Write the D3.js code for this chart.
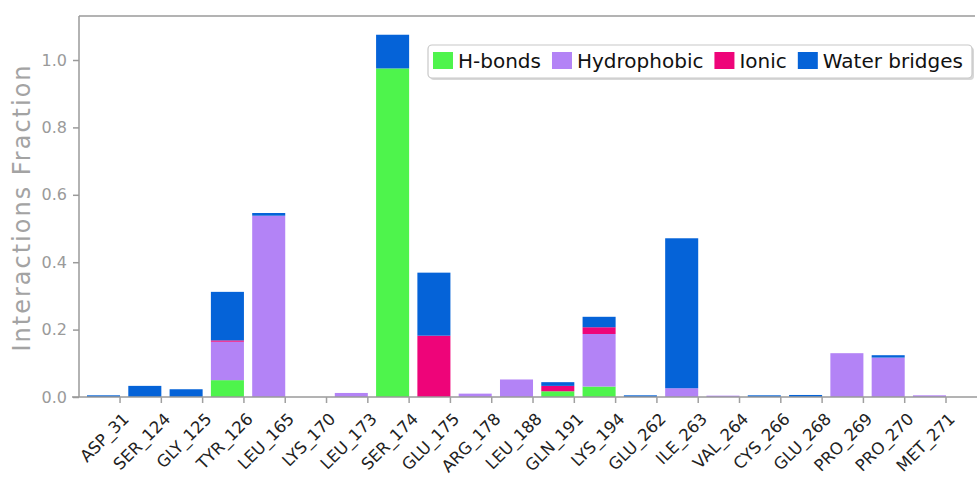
<!DOCTYPE html>
<html>
<head>
<meta charset="utf-8">
<script src="https://cdn.jsdelivr.net/npm/d3@7"></script>
<style>
  html, body { margin: 0; padding: 0; background: #fff; }
  svg { display: block; font-family: "DejaVu Sans", sans-serif; }
</style>
</head>
<body>
<svg id="chart" width="977" height="477"></svg>
<script>
// Residues along the x axis
const residues = ["ASP_31", "SER_124", "GLY_125", "TYR_126", "LEU_165", "LYS_170", "LEU_173",
  "SER_174", "GLU_175", "ARG_178", "LEU_188", "GLN_191", "LYS_194", "GLU_262", "ILE_263",
  "VAL_264", "CYS_266", "GLU_268", "PRO_269", "PRO_270", "MET_271"];

// Interaction fractions per residue, one array per interaction type
const hBonds      = [0, 0, 0, 0.050, 0, 0, 0, 0.975, 0, 0, 0, 0.017, 0.031, 0, 0, 0, 0, 0, 0, 0, 0];
const hydrophobic = [0, 0, 0, 0.114, 0.538, 0, 0.012, 0, 0, 0.010, 0.052, 0, 0.156, 0, 0.026, 0.004, 0, 0, 0.130, 0.117, 0.005];
const ionic       = [0, 0, 0, 0.004, 0, 0, 0, 0, 0.182, 0, 0, 0.016, 0.020, 0, 0, 0, 0, 0, 0, 0, 0];
const waterBridges= [0.005, 0.033, 0.023, 0.144, 0.008, 0, 0, 0.100, 0.187, 0, 0, 0.011, 0.031, 0.005, 0.445, 0, 0.005, 0.006, 0, 0.007, 0];

const seriesNames = ["H-bonds", "Hydrophobic", "Ionic", "Water bridges"];
const seriesColors = ["#4ef44c", "#b383f6", "#ee0479", "#0563d8"];
const yTicks = [0, 0.2, 0.4, 0.6, 0.8, 1.0];

const rows = residues.map((r, i) => ({
  residue: r,
  "H-bonds": hBonds[i],
  "Hydrophobic": hydrophobic[i],
  "Ionic": ionic[i],
  "Water bridges": waterBridges[i]
}));

const svg = d3.select("#chart");
const plot = { left: 79, top: 16, right: 977, bottom: 397 };

const x = d3.scaleBand().domain(residues).range([87, 946]).paddingInner(0.2).paddingOuter(0);
const y = d3.scaleLinear().domain([0, 1.1306]).range([plot.bottom, plot.top]);
const color = d3.scaleOrdinal().domain(seriesNames).range(seriesColors);

const stacked = d3.stack().keys(seriesNames)(rows);

// Frame: top border
svg.append("line")
  .attr("x1", plot.left).attr("x2", 975).attr("y1", plot.top).attr("y2", plot.top)
  .attr("stroke", "#9a9a9a").attr("stroke-width", 1.5);

// Stacked bars
svg.append("g").selectAll("g")
  .data(stacked)
  .join("g")
  .attr("fill", d => color(d.key))
  .selectAll("rect")
  .data(d => d)
  .join("rect")
  .attr("x", d => x(d.data.residue))
  .attr("width", x.bandwidth())
  .attr("y", d => y(d[1]))
  .attr("height", d => Math.max(0, y(d[0]) - y(d[1])));

// Baseline
svg.append("line")
  .attr("x1", 72).attr("x2", 977).attr("y1", plot.bottom).attr("y2", plot.bottom)
  .attr("stroke", "#9a9a9a").attr("stroke-width", 1.5);

// Y axis
const yAxis = svg.append("g")
  .attr("transform", `translate(${plot.left},0)`)
  .call(d3.axisLeft(y).tickValues(yTicks).tickFormat(d3.format(".1f")).tickSize(6).tickPadding(6));
yAxis.select(".domain").attr("stroke", "#9a9a9a").attr("stroke-width", 1.5)
  .attr("d", `M0,${plot.top}V${plot.bottom}`);
yAxis.selectAll(".tick line").attr("stroke", "#9a9a9a").attr("stroke-width", 1.5);
yAxis.selectAll(".tick text")
  .attr("fill", "#9a9a9a")
  .style("font-size", "16px")
  .style("font-family", "DejaVu Sans, sans-serif");

// X ticks at the right edge of each bar, labels rotated
const xg = svg.append("g");
xg.selectAll("line")
  .data(residues)
  .join("line")
  .attr("x1", d => x(d) + x.bandwidth())
  .attr("x2", d => x(d) + x.bandwidth())
  .attr("y1", plot.bottom)
  .attr("y2", plot.bottom + 6)
  .attr("stroke", "#a0a0a0")
  .attr("stroke-width", 1.5);
xg.selectAll("text")
  .data(residues)
  .join("text")
  .attr("transform", d => `translate(${x(d) + x.bandwidth() + 10},${plot.bottom + 23}) rotate(-45)`)
  .attr("text-anchor", "end")
  .attr("fill", "#222")
  .style("font-size", "16.5px")
  .text(d => d);

// Y axis title
svg.append("text")
  .attr("transform", `translate(30,${(62 + 353) / 2}) rotate(-90)`)
  .attr("text-anchor", "middle")
  .attr("fill", "#a3a3a3")
  .style("font-size", "24px")
  .style("letter-spacing", "2px")
  .text("Interactions Fraction");

// Legend
const legend = svg.append("g");
legend.append("rect")
  .attr("x", 430).attr("y", 47).attr("width", 544).attr("height", 33).attr("rx", 4)
  .attr("fill", "#d8d8d8");
legend.append("rect")
  .attr("x", 428).attr("y", 45).attr("width", 544).attr("height", 33).attr("rx", 4)
  .attr("fill", "#fff").attr("stroke", "#c8c8c8").attr("stroke-width", 1.2);

let lx = 433;
seriesNames.forEach(name => {
  legend.append("rect")
    .attr("x", lx).attr("y", 52).attr("width", 20).attr("height", 17)
    .attr("fill", color(name));
  const t = legend.append("text")
    .attr("x", lx + 25).attr("y", 68)
    .attr("fill", "#111")
    .style("font-size", "20px")
    .text(name);
  lx += 25 + t.node().getComputedTextLength() + 11;
});
</script>
</body>
</html>
